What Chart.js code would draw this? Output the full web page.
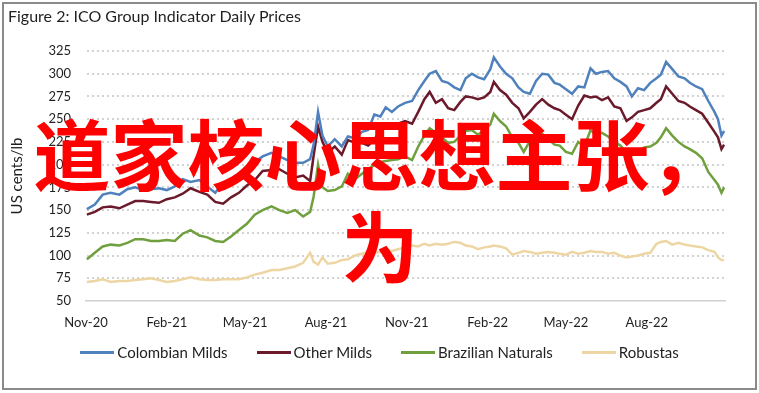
<!DOCTYPE html>
<html>
<head>
<meta charset="utf-8">
<script src="https://cdn.jsdelivr.net/npm/chart.js@4"></script>
<style>
  html, body { margin: 0; padding: 0; background: #fff; }
  #wrap { position: relative; width: 759px; height: 393px; overflow: hidden; }
  #frame { position: absolute; left: 2px; top: 2px; width: 751px; height: 384px; border: 2px solid #8a8a8a; }
  #title { position: absolute; left: 8px; top: 6px; font: 16px Lato, sans-serif; color: #1f1f1f; }
  #legend {
    position: absolute; left: 0; top: 342px; width: 759px; height: 20px;
    display: flex; justify-content: center; align-items: center; gap: 29px;
    font: 15px Lato, sans-serif; color: #1f1f1f;
  }
  #legend .item { display: flex; align-items: center; white-space: nowrap; }
  #legend .swatch { display: inline-block; width: 34px; height: 3px; margin-right: 3px; }
  #stamp {
    position: absolute; left: 20px; top: 106px; width: 720px;
    text-align: center; font-family: "Noto Sans CJK SC", sans-serif; font-weight: 700;
    font-size: 77px; line-height: 92px; color: #ff0000; pointer-events: none;
  }
  canvas { position: absolute; left: 0; top: 0; }
</style>
</head>
<body>
<div id="wrap">
  <canvas id="chart" width="759" height="393"></canvas>
  <div id="frame"></div>
  <div id="title">Figure 2: ICO Group Indicator Daily Prices</div>
  <div id="legend"></div>
  <div id="stamp">道家核心思想主张，为</div>
</div>
<script>
// days since 1 Nov 2020
const days = [1, 10, 19, 28, 38, 47, 56, 65, 74, 83,
  92, 101, 110, 119, 129, 138, 147, 156, 165, 174,
  183, 192, 201, 211, 220, 229, 238, 247, 255, 259,
  264, 269, 275, 283, 291, 298, 306, 314, 321, 328,
  335, 341, 348, 355, 363, 371, 378, 385, 391, 398,
  405, 412, 419, 426, 432, 439, 446, 453, 460, 464,
  471, 478, 485, 492, 498, 505, 512, 519, 526, 533,
  539, 546, 553, 560, 567, 574, 580, 587, 594, 601,
  608, 615, 621, 628, 635, 642, 649, 654, 660, 667,
  674, 681, 687, 694, 701, 708, 715, 719, 723, 726];

const colombianMilds = [151, 156, 167, 169, 167, 173, 175, 172, 173, 174,
  172, 176, 184, 181, 183, 176, 169, 180, 184, 188,
  195, 203, 209, 213, 209, 205, 202, 202, 206, 222,
  258, 232, 220, 228, 220, 231, 229, 236, 238, 255,
  253, 263, 258, 264, 268, 270, 282, 292, 300, 303,
  292, 290, 285, 282, 295, 300, 296, 294, 305, 318,
  308, 300, 295, 285, 280, 278, 292, 300, 299, 290,
  288, 283, 278, 286, 285, 306, 300, 302, 303, 295,
  291, 286, 275, 284, 282, 290, 295, 299, 313, 305,
  297, 295, 290, 286, 283, 270, 258, 250, 232, 237];

const otherMilds = [145, 148, 153, 154, 152, 156, 160, 160, 159, 158,
  162, 164, 168, 174, 170, 167, 159, 157, 164, 169,
  177, 183, 193, 194, 195, 190, 186, 188, 182, 210,
  242, 225, 213, 220, 211, 227, 224, 224, 221, 227,
  240, 244, 242, 245, 248, 245, 258, 272, 280, 268,
  272, 262, 260, 269, 275, 274, 272, 274, 280, 291,
  282, 277, 268, 262, 251, 258, 266, 272, 266, 262,
  260, 255, 250, 265, 276, 274, 275, 271, 274, 264,
  262, 248, 252, 258, 260, 262, 268, 272, 286, 278,
  270, 268, 264, 260, 256, 246, 236, 230, 217, 222];

const brazilianNaturals = [96, 103, 110, 112, 111, 114, 118, 118, 116, 116,
  117, 116, 124, 128, 122, 120, 116, 115, 121, 128,
  135, 145, 150, 154, 150, 147, 150, 143, 148, 165,
  200, 175, 171, 172, 176, 190, 184, 190, 195, 200,
  203, 204, 205, 206, 209, 205, 220, 232, 240, 235,
  230, 224, 225, 232, 237, 238, 233, 238, 244, 256,
  248, 242, 230, 224, 214, 226, 231, 234, 228, 222,
  221, 214, 212, 225, 220, 238, 233, 235, 231, 225,
  221, 213, 210, 214, 219, 220, 224, 230, 240, 232,
  225, 220, 217, 213, 207, 192, 183, 178, 169, 175];

const robustas = [71, 72, 74, 71, 72, 72, 73, 74, 75, 73,
  71, 72, 74, 76, 74, 73, 73, 74, 74, 74,
  76, 79, 81, 84, 84, 86, 88, 92, 103, 93,
  90, 98, 91, 92, 95, 96, 100, 102, 104, 103,
  104, 106, 105, 107, 109, 111, 110, 113, 111, 113,
  112, 113, 115, 114, 111, 110, 107, 109, 110, 111,
  110, 108, 101, 103, 105, 104, 102, 103, 104, 103,
  102, 101, 104, 102, 103, 105, 104, 104, 102, 103,
  100, 98, 99, 100, 102, 103, 113, 115, 116, 112,
  114, 112, 111, 110, 109, 106, 104, 98, 95, 95];

// x tick positions (days) and labels
const tickDays = [0, 92, 181, 273, 365, 457, 546, 638];
const tickLabels = ["Nov-20", "Feb-21", "May-21", "Aug-21", "Nov-21", "Feb-22", "May-22", "Aug-22"];

const series = [
  { label: "Colombian Milds", data: colombianMilds, color: "#4f81bd" },
  { label: "Other Milds", data: otherMilds, color: "#6b1a2c" },
  { label: "Brazilian Naturals", data: brazilianNaturals, color: "#70a03e" },
  { label: "Robustas", data: robustas, color: "#edd6a4" }
];

// legend below the plot
const legendEl = document.getElementById("legend");
series.forEach(s => {
  const item = document.createElement("span");
  item.className = "item";
  const sw = document.createElement("span");
  sw.className = "swatch";
  sw.style.background = s.color;
  item.appendChild(sw);
  item.appendChild(document.createTextNode(s.label));
  legendEl.appendChild(item);
});

const font = { family: "Lato, sans-serif", size: 13 };

new Chart(document.getElementById("chart").getContext("2d"), {
  type: "line",
  data: {
    datasets: series.map(s => ({
      label: s.label,
      data: s.data.map((v, i) => ({ x: days[i], y: v })),
      borderColor: s.color,
      backgroundColor: s.color,
      borderWidth: 2.5,
      pointRadius: 0,
      tension: 0
    }))
  },
  options: {
    responsive: false,
    animation: false,
    devicePixelRatio: 1,
    layout: { padding: { left: 6, right: 34, top: 51, bottom: 56 } },
    plugins: {
      legend: { display: false },
      tooltip: { enabled: false }
    },
    scales: {
      x: {
        type: "linear",
        min: 0,
        max: 727,
        afterBuildTicks: s => { s.ticks = tickDays.map(v => ({ value: v })); },
        afterFit: s => { s.height = 36; },
        ticks: {
          padding: 14,
          maxRotation: 0,
          color: "#1f1f1f",
          font: font,
          callback: v => tickLabels[tickDays.indexOf(v)]
        },
        grid: { display: false, drawTicks: false },
        border: { display: true, color: "#d0d0d0", width: 1.5 }
      },
      y: {
        min: 50,
        max: 325,
        afterFit: s => { s.width = 80; },
        ticks: { stepSize: 25, padding: 15, color: "#1f1f1f", font: font },
        title: { display: true, text: "US cents/lb", color: "#1f1f1f", font: { family: "Lato, sans-serif", size: 15 }, padding: { top: 2, bottom: 0 } },
        grid: {
          drawTicks: false,
          lineWidth: 2,
          color: c => (c.tick && c.tick.value === 50) ? "rgba(0,0,0,0)" : "#d2d2d2"
        },
        border: { display: true, color: "rgba(0,0,0,0)", dash: [2, 3] }
      }
    }
  }
});
</script>
</body>
</html>
